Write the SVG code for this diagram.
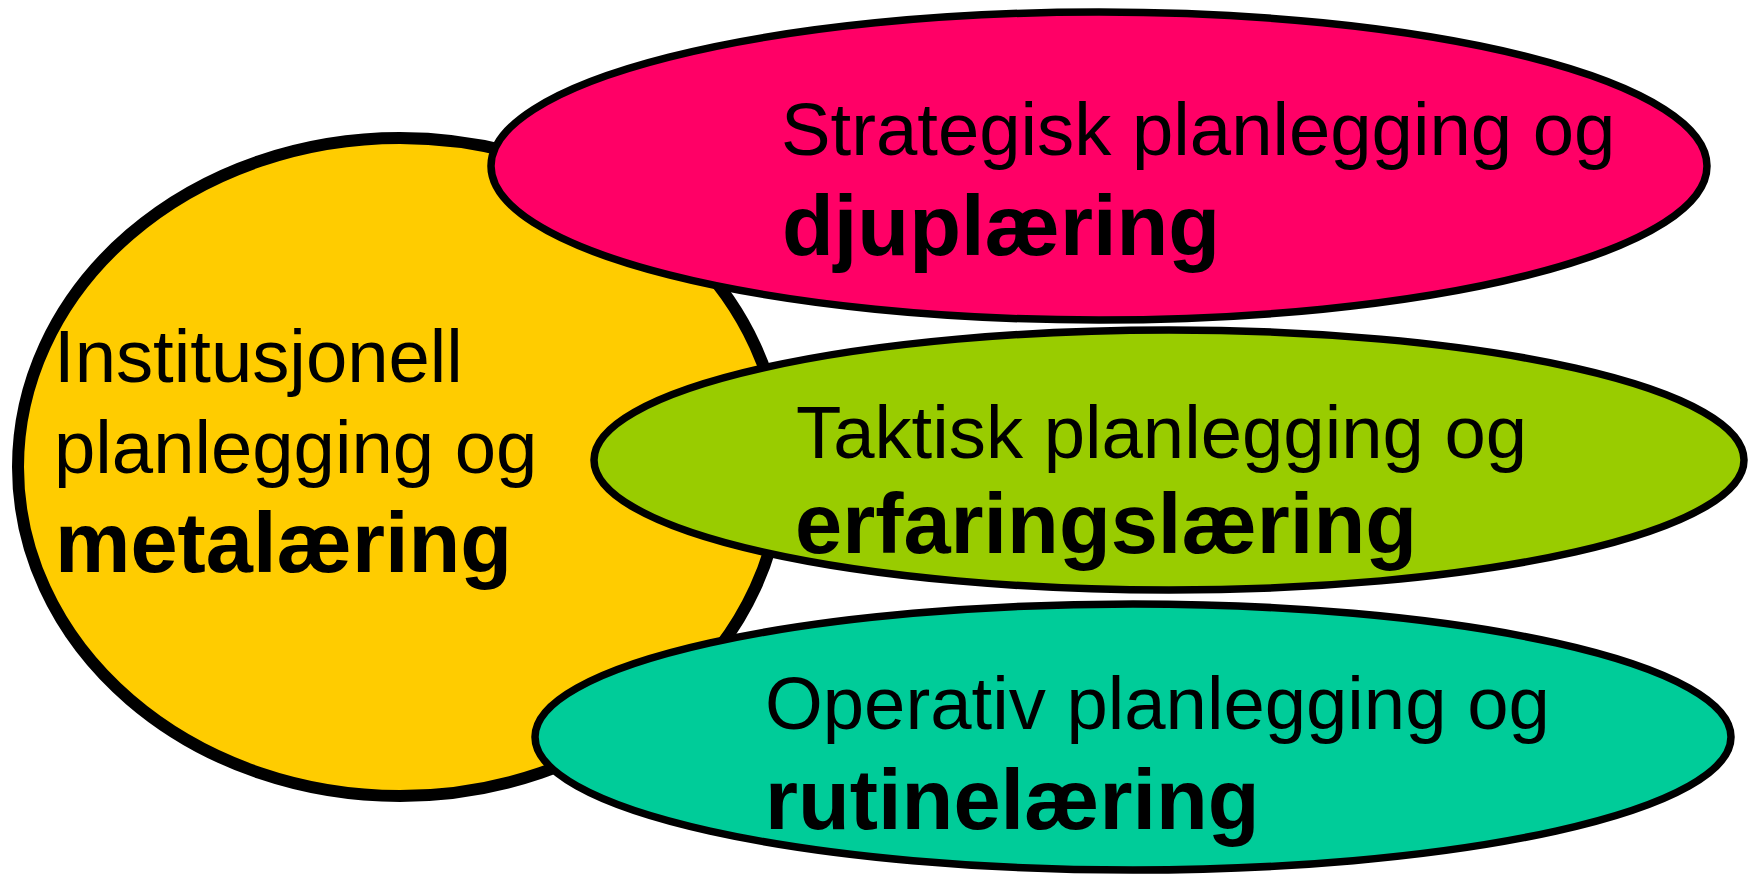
<svg xmlns="http://www.w3.org/2000/svg" width="1752" height="877" viewBox="0 0 1752 877">
<style>
.reg{font-family:"Liberation Sans",Arial,sans-serif;font-size:74.3px;fill:#000}
.bold{font-family:"Liberation Sans",Arial,sans-serif;font-size:84.8px;font-weight:bold;fill:#000}
.shape{stroke:#000;stroke-width:7.5}
</style>
<rect width="1752" height="877" fill="#fff"/>
<g id="connectors"></g>
<g id="node-institusjonell">
<ellipse cx="400" cy="467" rx="382" ry="329" fill="#FFCC00" stroke="#000" stroke-width="12"/>
<text class="reg" x="54" y="382">Institusjonell</text>
<text class="reg" x="54" y="473">planlegging og</text>
<text class="bold" x="55" y="572">metalæring</text>
</g>
<g id="node-strategisk">
<ellipse class="shape" cx="1099" cy="166" rx="608" ry="154" fill="#FF0066"/>
<text class="reg" x="781" y="155">Strategisk planlegging og</text>
<text class="bold" x="782" y="255">djuplæring</text>
</g>
<g id="node-taktisk">
<ellipse class="shape" cx="1169" cy="460" rx="575" ry="130" fill="#99CC00"/>
<text class="reg" x="796" y="458">Taktisk planlegging og</text>
<text class="bold" x="795" y="553">erfaringslæring</text>
</g>
<g id="node-operativ">
<ellipse class="shape" cx="1133" cy="737" rx="598" ry="133" fill="#00CC99"/>
<text class="reg" x="765" y="729">Operativ planlegging og</text>
<text class="bold" x="765" y="829">rutinelæring</text>
</g>
</svg>
